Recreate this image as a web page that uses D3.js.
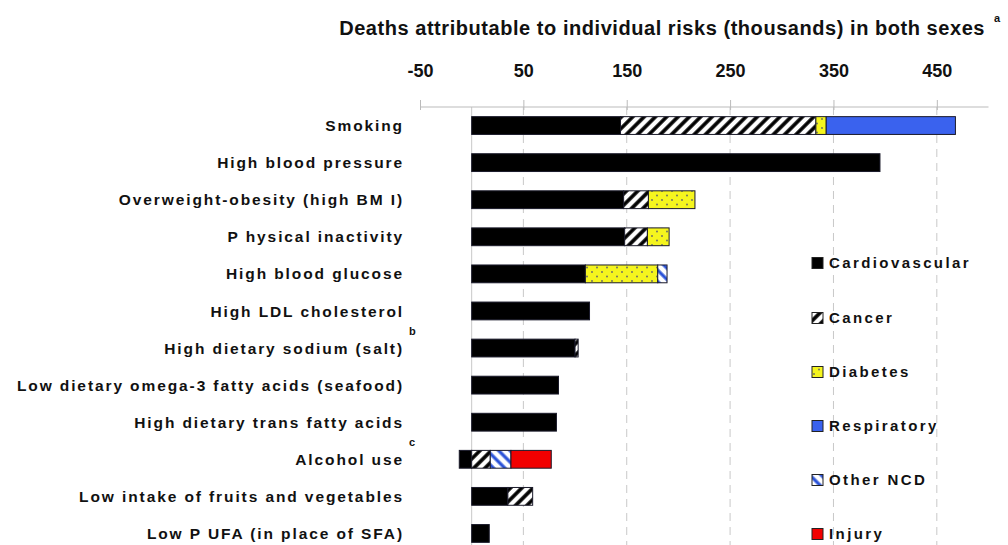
<!DOCTYPE html>
<html><head><meta charset="utf-8">
<script src="https://cdn.jsdelivr.net/npm/d3@7"></script>
<style>
html,body{margin:0;padding:0;background:#fff;}
svg{display:block;font-family:"Liberation Sans",Arial,sans-serif;}
</style></head>
<body>
<svg id="c" width="1008" height="545"></svg>
<script>
const categories = ["Smoking","High blood pressure","Overweight-obesity (high BM I)","P hysical inactivity","High blood glucose","High LDL cholesterol","High dietary sodium (salt)","Low dietary omega-3 fatty acids (seafood)","High dietary trans fatty acids","Alcohol use","Low intake of fruits and vegetables","Low P UFA (in place of SFA)"];
const cardiovascular = [144, 395, 147, 148, 110, 114, 100, 84, 82, -12, 35, 17];
const cancer         = [189, 0, 24, 22, 0, 0, 3, 0, 0, 18, 24, 0];
const diabetes       = [10, 0, 45, 21, 70, 0, 0, 0, 0, 0, 0, 0];
const respiratory    = [125, 0, 0, 0, 0, 0, 0, 0, 0, 0, 0, 0];
const otherNCD       = [0, 0, 0, 0, 9, 0, 0, 0, 0, 20, 0, 0];
const injury         = [0, 0, 0, 0, 0, 0, 0, 0, 0, 39, 0, 0];
const seriesNames = ["Cardiovascular","Cancer","Diabetes","Respiratory","Other NCD","Injury"];
const tickValues = [-50, 50, 150, 250, 350, 450];
const gridValues = [50, 150, 250, 350, 450];
const superscripts = {"High dietary sodium (salt)":"b","Alcohol use":"c"};

const svg = d3.select("#c");
const defs = svg.append("defs");
// cancer hatch
const pc = defs.append("pattern").attr("id","pCancer").attr("patternUnits","userSpaceOnUse")
  .attr("width",8).attr("height",8).attr("patternTransform","rotate(45)");
pc.append("rect").attr("width",8).attr("height",8).attr("fill","#fff");
pc.append("line").attr("x1",2).attr("y1",0).attr("x2",2).attr("y2",8).attr("stroke","#000").attr("stroke-width",3.6);
// diabetes dots
const pd = defs.append("pattern").attr("id","pDiab").attr("patternUnits","userSpaceOnUse")
  .attr("width",10).attr("height",9);
pd.append("rect").attr("width",10).attr("height",9).attr("fill","#f5f51e");
pd.append("circle").attr("cx",2).attr("cy",2).attr("r",0.9).attr("fill","#666");
pd.append("circle").attr("cx",7).attr("cy",6.5).attr("r",0.9).attr("fill","#666");
// other NCD hatch
const po = defs.append("pattern").attr("id","pOther").attr("patternUnits","userSpaceOnUse")
  .attr("width",8).attr("height",8).attr("patternTransform","rotate(-45)");
po.append("rect").attr("width",8).attr("height",8).attr("fill","#fff");
po.append("line").attr("x1",2).attr("y1",0).attr("x2",2).attr("y2",8).attr("stroke","#2a52d8").attr("stroke-width",3.2);

const fills = ["#000","url(#pCancer)","url(#pDiab)","#3a62ee","url(#pOther)","#f20000"];

const x = d3.scaleLinear().domain([-50, 500]).range([420, 988.5]);
const y = d3.scaleBand().domain(categories).range([107, 552]).paddingInner(0.52).paddingOuter(0.26);

// title
svg.append("text").attr("x", 985).attr("y", 35).attr("text-anchor","end")
  .attr("font-size", 20).attr("font-weight","bold").attr("letter-spacing","0.55px").attr("fill","#111")
  .text("Deaths attributable to individual risks (thousands) in both sexes");
svg.append("text").attr("x", 994).attr("y", 22).attr("font-size", 11).attr("font-weight","bold").attr("fill","#111").text("a");

// grid
svg.append("g").selectAll("line").data(gridValues).join("line")
  .attr("x1", d=>x(d)).attr("x2", d=>x(d)).attr("y1", 107).attr("y2", 545)
  .attr("stroke","#c8c8c8").attr("stroke-width",1).attr("stroke-dasharray","8,6");
svg.append("line").attr("x1", x(0)).attr("x2", x(0)).attr("y1", 107).attr("y2", 545)
  .attr("stroke","#c8c8c8").attr("stroke-width",1);

// top axis
const axis = d3.axisTop(x).tickValues(tickValues).tickSize(7).tickFormat(d=>String(d));
const ag = svg.append("g").attr("transform","translate(0,107)").call(axis);
ag.select(".domain").attr("stroke","#bbb").attr("d", `M${x(-50)},0H${x(500)}`);
ag.selectAll(".tick line").attr("stroke","#bbb").attr("y1", 3);
ag.selectAll(".tick text").attr("font-size", 18).attr("font-weight","bold").attr("fill","#111")
  .attr("font-family","'Liberation Sans',Arial,sans-serif").attr("y", -30);

// stacked bars
const table = categories.map((c,i)=>({cat:c, "Cardiovascular":cardiovascular[i], "Cancer":cancer[i], "Diabetes":diabetes[i], "Respiratory":respiratory[i], "Other NCD":otherNCD[i], "Injury":injury[i]}));
const stack = d3.stack().keys(seriesNames).offset(d3.stackOffsetDiverging)(table);
svg.append("g").selectAll("g").data(stack).join("g")
  .attr("fill", (d,i)=>fills[i])
  .selectAll("rect").data(d=>d.filter(s=>s[1]-s[0] !== 0)).join("rect")
  .attr("x", d=>x(Math.min(d[0],d[1]))).attr("width", d=>Math.abs(x(d[1])-x(d[0])))
  .attr("y", d=>y(d.data.cat)).attr("height", y.bandwidth())
  .attr("stroke","#1a1a2a").attr("stroke-width",1);

// category labels
svg.append("g").selectAll("text").data(categories).join("text")
  .attr("x", 404).attr("y", d=>y(d)+y.bandwidth()/2).attr("dy","0.36em")
  .attr("text-anchor","end").attr("font-size",15.5).attr("font-weight","bold")
  .attr("letter-spacing","1.9px").attr("fill","#111").text(d=>d);
svg.append("g").selectAll("text").data(Object.keys(superscripts)).join("text")
  .attr("x", 409).attr("y", d=>y(d)-4).attr("font-size",11).attr("font-weight","bold").attr("fill","#111")
  .text(d=>superscripts[d]);

// legend
const legY = [263, 318, 372, 426, 480, 534];
const lg = svg.append("g").selectAll("g").data(seriesNames).join("g")
  .attr("transform",(d,i)=>`translate(812,${legY[i]})`);
lg.append("rect").attr("x",0).attr("y",-5.5).attr("width",11).attr("height",11)
  .attr("fill",(d,i)=>fills[i]).attr("stroke","#222").attr("stroke-width",1);
lg.append("text").attr("x",17).attr("y",0).attr("dy","0.36em").attr("font-size",15).attr("font-weight","bold")
  .attr("letter-spacing","2.4px").attr("fill","#111").text(d=>d);
</script>
</body></html>
